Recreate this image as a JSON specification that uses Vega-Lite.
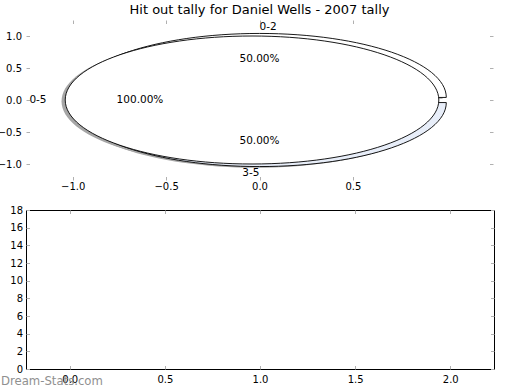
{
  "$schema": "https://vega.github.io/schema/vega-lite/v6.json",
  "padding": {"left": -3, "top": 3, "right": 0, "bottom": 0},
  "config": {
    "font": "DejaVu Sans",
    "view": {"stroke": null},
    "axis": {"labelFont": "DejaVu Sans", "labelFontSize": 10, "labelColor": "#000000", "tickColor": "#b0b0b0", "tickSize": -3.5, "tickWidth": 1, "domain": false, "grid": false, "labelFlush": false, "labelOverlap": false}
  },
  "datasets": {
    "wedges": [
      {"pie": "outer", "label": "0-2", "value": 50, "cx": 0, "cy": 0.04},
      {"pie": "outer", "label": "3-5", "value": 50, "cx": 0, "cy": -0.04},
      {"pie": "inner", "label": "0-5", "value": 100, "cx": -0.04, "cy": 0}
    ],
    "labels": [
      {"text": "0-2", "x": 0, "y": 1.14, "ha": "left"},
      {"text": "3-5", "x": 0, "y": -1.14, "ha": "right"},
      {"text": "0-5", "x": -1.14, "y": 0, "ha": "right"},
      {"text": "50.00%", "x": 0, "y": 0.64, "ha": "center"},
      {"text": "50.00%", "x": 0, "y": -0.64, "ha": "center"},
      {"text": "100.00%", "x": -0.64, "y": 0, "ha": "center"}
    ],
    "watermark": [{"text": "Dream-Stats.com"}],
    "empty": []
  },
  "spacing": 30,
  "bounds": "flush",
  "vconcat": [
    {
      "width": 467,
      "height": 160,
      "title": {"text": "Hit out tally for Daniel Wells - 2007 tally", "fontSize": 13, "fontWeight": "normal", "font": "DejaVu Sans", "color": "#000000", "baseline": "alphabetic", "offset": -7},
      "resolve": {"axis": {"x": "independent", "y": "independent"}},
      "layer": [
        {
          "data": {"name": "wedges"},
          "mark": {"type": "point", "filled": true, "size": 139577, "opacity": 1, "fill": "#a6a6a6", "strokeWidth": 0, "xOffset": -3.7, "yOffset": 1.3},
          "encoding": {
            "x": {"field": "cx", "type": "quantitative", "scale": {"domain": [-1.25, 1.25], "nice": false, "zero": false}, "axis": {"orient": "bottom", "values": [-1, -0.5, 0, 0.5], "format": ".1f", "title": null, "labelPadding": 5}},
            "y": {"field": "cy", "type": "quantitative", "scale": {"domain": [-1.25, 1.25], "nice": false, "zero": false}, "axis": {"orient": "left", "values": [-1, -0.5, 0, 0.5, 1], "format": ".1f", "title": null, "labelPadding": 8}},
            "shape": {"field": "label", "type": "nominal", "legend": null, "scale": {"domain": ["0-2", "3-5", "0-5"], "range": ["M1,0C1,-0.1892,0.5523,-0.3426,0,-0.3426C-0.5523,-0.3426,-1,-0.1892,-1,0Z", "M1,0C1,0.1892,0.5523,0.3426,0,0.3426C-0.5523,0.3426,-1,0.1892,-1,0Z", "M1,0C1,-0.1892,0.5523,-0.3426,0,-0.3426C-0.5523,-0.3426,-1,-0.1892,-1,0C-1,0.1892,-0.5523,0.3426,0,0.3426C0.5523,0.3426,1,0.1892,1,0Z"]}}
          }
        },
        {
          "data": {"name": "wedges"},
          "transform": [{"filter": "datum.pie === 'outer'"}],
          "mark": {"type": "point", "filled": true, "size": 139577, "opacity": 1, "stroke": "#000000", "strokeWidth": 0.9},
          "encoding": {
            "x": {"field": "cx", "type": "quantitative", "axis": {"orient": "top", "values": [-1, -0.5, 0, 0.5], "labels": false, "title": null}},
            "y": {"field": "cy", "type": "quantitative", "axis": {"orient": "right", "values": [-1, -0.5, 0, 0.5, 1], "labels": false, "title": null}},
            "shape": {"field": "label", "type": "nominal", "legend": null},
            "color": {"field": "label", "type": "nominal", "legend": null, "scale": {"domain": ["0-2", "3-5", "0-5"], "range": ["#ffffff", "#e8eef9", "#ffffff"]}}
          }
        },
        {
          "data": {"name": "wedges"},
          "transform": [{"filter": "datum.pie === 'inner'"}],
          "mark": {"type": "point", "filled": true, "size": 139577, "opacity": 1, "stroke": "#000000", "strokeWidth": 0.9},
          "encoding": {
            "x": {"field": "cx", "type": "quantitative", "axis": null},
            "y": {"field": "cy", "type": "quantitative", "axis": null},
            "shape": {"field": "label", "type": "nominal", "legend": null},
            "color": {"field": "label", "type": "nominal", "legend": null}
          }
        },
        {
          "data": {"name": "labels"},
          "transform": [{"filter": "datum.ha === 'left'"}],
          "mark": {"type": "text", "align": "left", "baseline": "middle", "fontSize": 10.5, "font": "DejaVu Sans", "color": "#000000"},
          "encoding": {
            "x": {"field": "x", "type": "quantitative", "axis": null},
            "y": {"field": "y", "type": "quantitative", "axis": null},
            "text": {"field": "text"}
          }
        },
        {
          "data": {"name": "labels"},
          "transform": [{"filter": "datum.ha === 'right'"}],
          "mark": {"type": "text", "align": "right", "baseline": "middle", "fontSize": 10.5, "font": "DejaVu Sans", "color": "#000000"},
          "encoding": {
            "x": {"field": "x", "type": "quantitative", "axis": null},
            "y": {"field": "y", "type": "quantitative", "axis": null},
            "text": {"field": "text"}
          }
        },
        {
          "data": {"name": "labels"},
          "transform": [{"filter": "datum.ha === 'center'"}],
          "mark": {"type": "text", "align": "center", "baseline": "middle", "fontSize": 10.5, "font": "DejaVu Sans", "color": "#000000"},
          "encoding": {
            "x": {"field": "x", "type": "quantitative", "axis": null},
            "y": {"field": "y", "type": "quantitative", "axis": null},
            "text": {"field": "text"}
          }
        }
      ]
    },
    {
      "width": 468,
      "height": 159,
      "view": {"stroke": "#000000", "strokeWidth": 1},
      "resolve": {"axis": {"x": "independent", "y": "independent"}},
      "layer": [
        {
          "data": {"name": "empty"},
          "mark": {"type": "point"},
          "encoding": {
            "x": {"field": "x", "type": "quantitative", "scale": {"domain": [-0.23, 2.23], "nice": false, "zero": false}, "axis": {"orient": "bottom", "values": [0, 0.5, 1, 1.5, 2], "format": ".1f", "title": null, "labelPadding": 9}},
            "y": {"field": "y", "type": "quantitative", "scale": {"domain": [0, 18], "nice": false, "zero": false}, "axis": {"orient": "left", "values": [0, 2, 4, 6, 8, 10, 12, 14, 16, 18], "format": "d", "title": null, "labelPadding": 7}}
          }
        },
        {
          "data": {"name": "empty"},
          "mark": {"type": "point"},
          "encoding": {
            "x": {"field": "x", "type": "quantitative", "axis": {"orient": "top", "values": [0, 0.5, 1, 1.5, 2], "labels": false, "title": null}},
            "y": {"field": "y", "type": "quantitative", "axis": {"orient": "right", "values": [0, 2, 4, 6, 8, 10, 12, 14, 16, 18], "labels": false, "title": null}}
          }
        },
        {
          "data": {"name": "watermark"},
          "mark": {"type": "text", "align": "left", "baseline": "alphabetic", "fontSize": 11.7, "font": "DejaVu Sans", "color": "#909090"},
          "encoding": {
            "x": {"datum": -0.362, "type": "quantitative", "axis": null},
            "y": {"datum": -1.85, "type": "quantitative", "axis": null},
            "text": {"field": "text"}
          }
        }
      ]
    }
  ]
}
